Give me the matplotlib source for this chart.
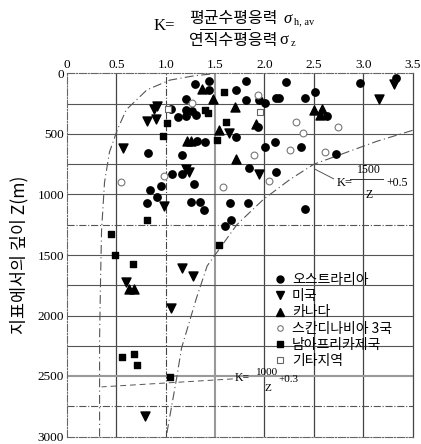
import numpy as np
import matplotlib.pyplot as plt
from matplotlib.lines import Line2D

W, H = 421, 444

# K = 평균수평응력 / 연직응력, Z = 깊이 (m)
aus_k = [1.30, 1.44, 1.44, 1.81, 1.71, 1.21, 1.81, 2.01, 1.95, 1.05,
         1.21, 1.27, 1.31, 1.12, 1.21, 1.71, 1.32, 1.40, 2.01, 0.82,
         1.17, 1.06, 1.16, 1.29, 0.95, 0.84, 0.91, 0.81, 1.26, 1.35,
         1.39, 1.65, 1.66, 1.60, 1.84, 1.83, 2.22, 2.12, 2.15, 2.41,
         2.51, 2.97, 3.33, 2.63, 1.93, 2.11, 2.37, 2.73, 2.12, 2.41]
aus_z = [90, 60, 140, 60, 140, 210, 220, 240, 220, 290,
         300, 310, 340, 360, 350, 525, 560, 570, 610, 660,
         670, 830, 830, 910, 930, 960, 1020, 1070, 1065, 1065,
         1130, 1070, 1210, 1260, 780, 1070, 70, 200, 200, 200,
         150, 75, 40, 350, 440, 565, 605, 665, 810, 1120]

usa_k = [0.88, 0.91, 0.81, 0.90, 1.64, 0.57, 1.21, 1.24, 0.98, 1.95,
         3.31, 3.16, 1.17, 1.28, 0.60, 1.05, 0.79]
usa_z = [290, 270, 395, 375, 490, 615, 790, 810, 1095, 830,
         90, 210, 1610, 1670, 1720, 1935, 2830]

can_k = [1.37, 1.48, 1.70, 1.54, 1.22, 1.26, 1.71, 1.91, 2.50, 2.58, 2.56, 0.63, 0.68]
can_z = [130, 210, 280, 470, 560, 555, 710, 415, 305, 295, 345, 1780, 1780]

sca_k = [1.27, 1.93, 2.32, 2.75, 2.39, 2.26, 2.61, 1.89, 2.05, 1.58, 0.98, 0.55]
sca_z = [245, 175, 400, 445, 490, 635, 650, 670, 890, 940, 850, 900]

saf_k = [1.59, 1.40, 1.43, 1.61, 1.01, 0.97, 1.52, 0.81, 0.45, 0.49,
         0.67, 1.54, 0.56, 0.68, 0.71, 1.04]
saf_z = [155, 300, 330, 400, 405, 515, 550, 1210, 1330, 1500,
         1575, 1420, 2340, 2320, 2405, 2510]

oth_k = [1.02, 1.96]
oth_z = [290, 315]

# envelope curves
upper_k = [3.50, 3.14, 2.77, 2.50, 2.26, 1.99, 1.72, 1.42, 1.31, 1.16, 1.11, 1.01]
upper_z = [470, 560, 670, 750, 875, 1040, 1250, 1590, 1860, 2270, 2520, 2980]
lower_k = [1.45, 1.28, 1.04, 0.81, 0.60, 0.51, 0.43, 0.38, 0.35, 0.34, 0.33, 0.33]
lower_z = [5, 20, 55, 135, 300, 465, 650, 900, 1300, 1700, 2200, 3000]

labels = ["오스트라리아", "미국", "카나다", "스칸디나비아 3국", "남아프리카제국", "기타지역"]
x_ticks = [0, 0.5, 1.0, 1.5, 2.0, 2.5, 3.0, 3.5]
y_ticks = [0, 500, 1000, 1500, 2000, 2500, 3000]

plt.rcParams['font.family'] = ['Noto Sans CJK KR', 'DejaVu Sans']
SERIF = ['Liberation Serif', 'DejaVu Serif']


def px(x, y):
    return x / W, 1 - y / H


fig = plt.figure(figsize=(W / 100, H / 100), dpi=100)
ax = fig.add_axes([67 / W, 1 - 436.5 / H, 345.5 / W, 363 / H])
ax.set_xlim(0, 3.5)
ax.set_ylim(3000, 0)

# grid, a bit uneven like the printed original
for k in [0.5, 2.0, 2.5, 3.0]:
    ax.axvline(k, color='#444', lw=0.9, zorder=1)
ax.axvline(1.0, color='#444', lw=0.8, ls='-.', zorder=1)
ax.axvline(1.5, color='#999', lw=1.5, zorder=1)
for z in range(250, 3000, 250):
    if z == 2500:
        ax.axhline(z, color='#999', lw=1.5, zorder=1)
    elif z in (1250, 2750):
        ax.axhline(z, color='#555', lw=0.8, ls='-.', zorder=1)
    else:
        ax.axhline(z, color='#555', lw=0.8, zorder=1)

for side in ['left', 'top', 'bottom']:
    ax.spines[side].set_linestyle('-.')
    ax.spines[side].set_color('#666')
    ax.spines[side].set_linewidth(0.8)
ax.spines['right'].set_color('#444')
ax.spines['right'].set_linewidth(0.9)

ax.plot(upper_k, upper_z, color='#555', lw=0.8, ls=(0, (8, 3, 1, 3)), zorder=2)
ax.plot(lower_k, lower_z, color='#555', lw=0.8, ls=(0, (8, 3, 1, 3)), zorder=2)

ax.scatter(aus_k, aus_z, marker='o', s=28, color='black', zorder=3)
ax.scatter(usa_k, usa_z, marker='v', s=42, color='black', zorder=3)
ax.scatter(can_k, can_z, marker='^', s=42, color='black', zorder=3)
ax.scatter(sca_k, sca_z, marker='o', s=24, facecolor='white', edgecolor='#777', lw=0.8, zorder=3)
ax.scatter(saf_k, saf_z, marker='s', s=22, color='black', zorder=3)
ax.scatter(oth_k, oth_z, marker='s', s=20, facecolor='white', edgecolor='#666', lw=0.8, zorder=3)

# curve labels
ax.plot([2.70, 2.51], [870, 790], color='#555', lw=0.7)
ax.text(2.73, 905, "K=", fontsize=9, family=SERIF, va='center')
ax.plot([2.87, 3.20], [870, 870], color='#333', lw=0.7)
ax.text(3.06, 850, "1500", fontsize=8.5, family=SERIF, ha='center', va='bottom')
ax.text(3.06, 1000, "Z", fontsize=8.5, family=SERIF, ha='center', va='center')
ax.text(3.24, 905, "+0.5", fontsize=8.5, family=SERIF, va='center')

ax.plot([1.68, 0.35], [2524, 2590], color='#555', lw=0.7, ls=(0, (6, 4)))
ax.text(1.70, 2520, "K=", fontsize=8.5, family=SERIF, va='center')
ax.text(2.03, 2470, "1000", fontsize=8, family=SERIF, ha='center', va='center')
ax.text(2.03, 2600, "Z", fontsize=8, family=SERIF, ha='center', va='center')
ax.text(2.14, 2530, "+0.3", fontsize=8, family=SERIF, va='center')

ax.xaxis.tick_top()
ax.set_xticks(x_ticks)
ax.set_xticklabels([f"{v:g}" if v == 0 else f"{v:.1f}" for v in x_ticks])
ax.set_yticks(y_ticks)
ax.tick_params(length=0, labelsize=9.5, pad=2)
for t in ax.get_xticklabels() + ax.get_yticklabels():
    t.set_family(SERIF)

handles = [
    Line2D([], [], ls='', marker='o', ms=5, color='black'),
    Line2D([], [], ls='', marker='v', ms=6, color='black'),
    Line2D([], [], ls='', marker='^', ms=6, color='black'),
    Line2D([], [], ls='', marker='o', ms=4, mfc='white', mec='#777', mew=0.8),
    Line2D([], [], ls='', marker='s', ms=4, color='black'),
    Line2D([], [], ls='', marker='s', ms=4, mfc='white', mec='#666', mew=0.8),
]
ax.legend(handles, labels, loc='upper left', bbox_to_anchor=px(274, 273),
          bbox_transform=fig.transFigure, frameon=False, fontsize=10,
          handlelength=0.8, handletextpad=0.5, labelspacing=0.16, borderpad=0,
          borderaxespad=0)

# y label
fig.text(*px(19, 255), "지표에서의 깊이 Z(m)", rotation=90, fontsize=12.5,
         ha='center', va='center')

# title: K = 평균수평응력 / 연직수평응력
fig.text(*px(154, 26), "K=", fontsize=12, family=SERIF, va='center')
fig.text(*px(189, 19), "평균수평응력", fontsize=11.5, va='center')
fig.text(*px(283, 19), "σ", fontsize=12, family=SERIF, style='italic', va='center')
fig.text(*px(294, 22), "h, av", fontsize=7.5, family=SERIF, va='center')
fig.add_artist(Line2D([200 / W, 250 / W], [1 - 29.5 / H, 1 - 29.5 / H], color='black', lw=0.7))
fig.text(*px(189, 40), "연직수평응력", fontsize=11.5, va='center')
fig.text(*px(279, 40), "σ", fontsize=12, family=SERIF, va='center')
fig.text(*px(291, 43), "z", fontsize=7.5, family=SERIF, va='center')

fig.savefig("out.png", dpi=100)
